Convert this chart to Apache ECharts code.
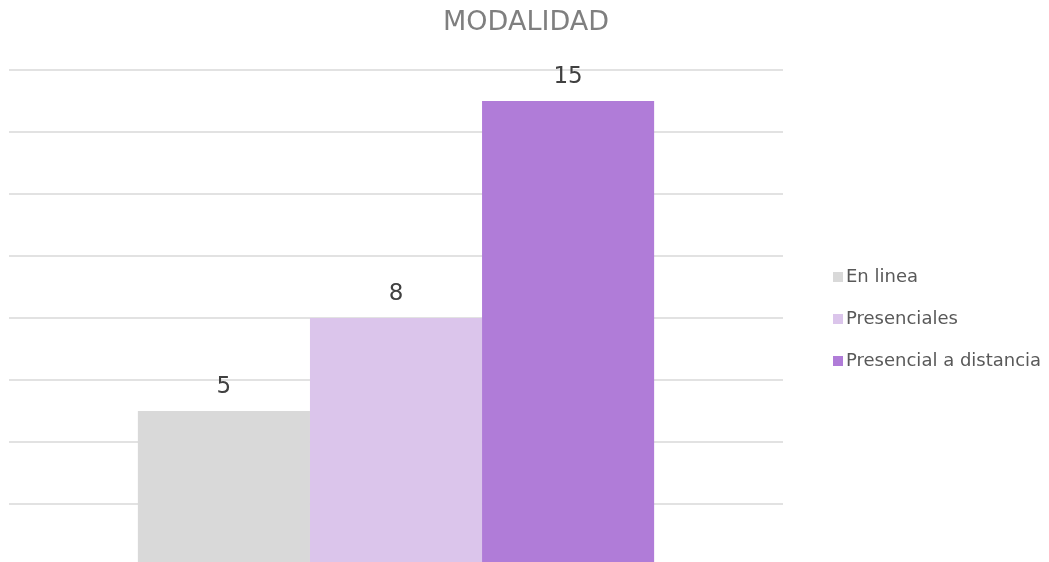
<!DOCTYPE html>
<html>
<head>
<meta charset="utf-8">
<script src="https://cdn.jsdelivr.net/npm/echarts@6/dist/echarts.min.js"></script>
<style>
  html, body { margin: 0; padding: 0; background: #ffffff; overflow: hidden; }
  /* canvas runs a few pixels past the window so the zero line sits just below the fold */
  #chart { width: 1049px; height: 570px; }
</style>
</head>
<body>
<div id="chart"></div>
<script>
// Modalidad: one category, one series per modality
const categories = ['MODALIDAD'];
const seriesNames = ['En linea', 'Presenciales', 'Presencial a distancia'];
const enLinea = [5];
const presenciales = [8];
const presencialDistancia = [15];
const seriesColors = ['#d9d9d9', '#dbc5eb', '#b07cd8'];

const FONT = 'DejaVu Sans';
const valuesList = [enLinea, presenciales, presencialDistancia];

const chart = echarts.init(document.getElementById('chart'), null, { renderer: 'canvas' });
chart.setOption({
  animation: false,
  backgroundColor: '#ffffff',
  title: {
    text: 'MODALIDAD',
    left: 521,
    textAlign: 'center',
    top: 4,
    textStyle: { fontFamily: FONT, fontSize: 27, fontWeight: 'normal', color: '#7f7f7f' }
  },
  legend: {
    orient: 'vertical',
    left: 828,
    top: 263,
    itemWidth: 10,
    itemHeight: 10,
    itemGap: 24,
    icon: 'rect',
    textStyle: { fontFamily: FONT, fontSize: 18, color: '#595959', padding: [0, 0, 0, -2] },
    data: seriesNames
  },
  grid: { left: 9, right: 266, top: 70, bottom: 4, containLabel: false },
  xAxis: {
    type: 'category',
    data: categories,
    axisLine: { show: false },
    axisTick: { show: false },
    axisLabel: { show: false }
  },
  yAxis: {
    type: 'value',
    min: 0,
    max: 16,
    interval: 2,
    axisLine: { show: false },
    axisTick: { show: false },
    axisLabel: { show: false },
    splitLine: { lineStyle: { color: '#d9d9d9', width: 1.5 } }
  },
  series: seriesNames.map((name, i) => ({
    name: name,
    type: 'bar',
    data: valuesList[i],
    barGap: '0%',
    barCategoryGap: '33.3%',
    itemStyle: { color: seriesColors[i] },
    label: {
      show: true,
      position: 'top',
      distance: 12,
      fontFamily: FONT,
      fontSize: 23,
      color: '#404040'
    }
  }))
});
</script>
</body>
</html>
